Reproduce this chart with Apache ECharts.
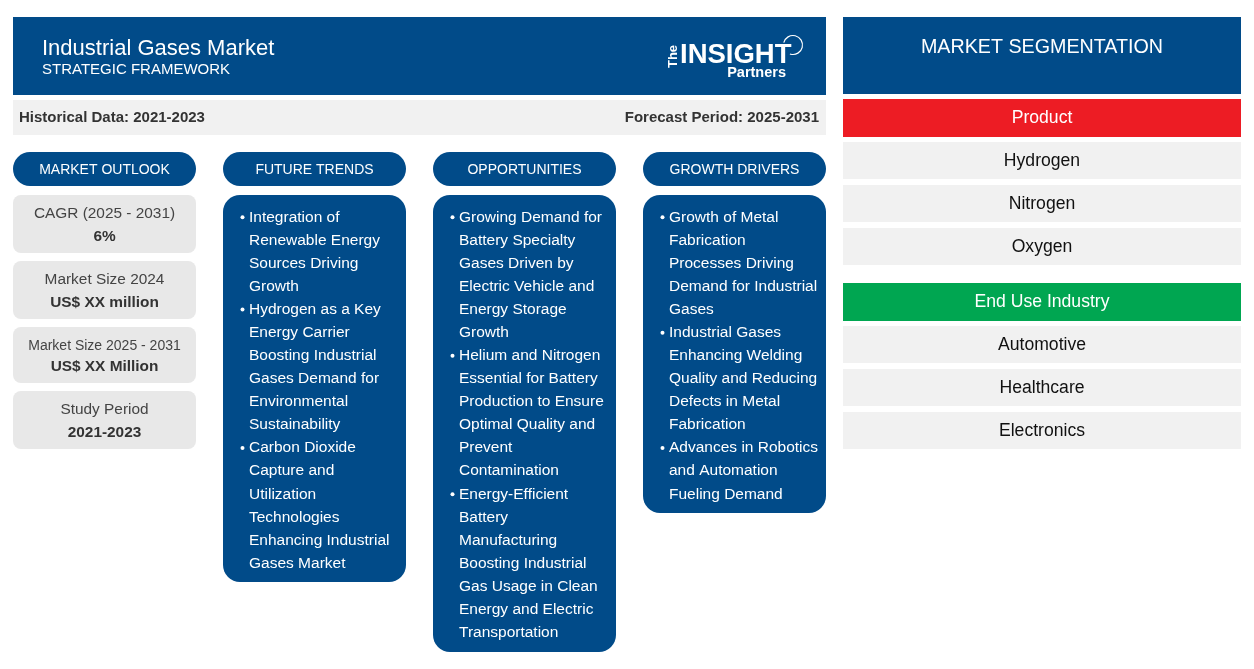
<!DOCTYPE html>
<html>
<head>
<meta charset="utf-8">
<title>Industrial Gases Market</title>
<script src="https://cdn.jsdelivr.net/npm/echarts@6/dist/echarts.min.js"></script>
<style>
  html, body { margin: 0; padding: 0; background: #fff; }
  #chart { width: 1254px; height: 669px; }
</style>
</head>
<body>
<div id="chart"></div>
<script>
const titleText = 'Industrial Gases Market';
const subtitleText = 'STRATEGIC FRAMEWORK';
const historicalText = 'Historical Data: 2021-2023';
const forecastText = 'Forecast Period: 2025-2031';
const segmentationTitle = 'MARKET SEGMENTATION';

const columnTitles = ['MARKET OUTLOOK', 'FUTURE TRENDS', 'OPPORTUNITIES', 'GROWTH DRIVERS'];

const outlookLabels = ['CAGR (2025 - 2031)', 'Market Size 2024', 'Market Size 2025 - 2031', 'Study Period'];
const outlookValues = ['6%', 'US$ XX million', 'US$ XX Million', '2021-2023'];

const futureTrends = [
  ['Integration of', 'Renewable Energy', 'Sources Driving', 'Growth'],
  ['Hydrogen as a Key', 'Energy Carrier', 'Boosting Industrial', 'Gases Demand for', 'Environmental', 'Sustainability'],
  ['Carbon Dioxide', 'Capture and', 'Utilization', 'Technologies', 'Enhancing Industrial', 'Gases Market']
];
const opportunities = [
  ['Growing Demand for', 'Battery Specialty', 'Gases Driven by', 'Electric Vehicle and', 'Energy Storage', 'Growth'],
  ['Helium and Nitrogen', 'Essential for Battery', 'Production to Ensure', 'Optimal Quality and', 'Prevent', 'Contamination'],
  ['Energy-Efficient', 'Battery', 'Manufacturing', 'Boosting Industrial', 'Gas Usage in Clean', 'Energy and Electric', 'Transportation']
];
const growthDrivers = [
  ['Growth of Metal', 'Fabrication', 'Processes Driving', 'Demand for Industrial', 'Gases'],
  ['Industrial Gases', 'Enhancing Welding', 'Quality and Reducing', 'Defects in Metal', 'Fabrication'],
  ['Advances in Robotics', 'and Automation', 'Fueling Demand']
];

const productItems = ['Hydrogen', 'Nitrogen', 'Oxygen'];
const endUseItems = ['Automotive', 'Healthcare', 'Electronics'];

const BLUE = '#014b89';
const RED = '#ed1c24';
const GREEN = '#00a651';
const FONT = '"Liberation Sans", Arial, sans-serif';

const rect = (x, y, width, height, fill, r) => ({
  type: 'rect',
  shape: { x, y, width, height, r: r || 0 },
  style: { fill }
});

const label = (text, x, y, size, fill, opts) => ({
  type: 'text',
  x, y,
  style: Object.assign({
    text, fill,
    font: `${(opts && opts.weight) || 'normal'} ${size}px ${FONT}`,
    textAlign: 'center',
    textVerticalAlign: 'middle'
  }, opts && opts.style)
});

const elements = [];

// header + date band
elements.push(rect(13, 17, 813, 78, BLUE));
elements.push(label(titleText, 42, 48.5, 22, '#fff', { style: { textAlign: 'left' } }));
elements.push(label(subtitleText, 42, 69.5, 15, '#fff', { style: { textAlign: 'left' } }));
elements.push(rect(13, 100, 813, 35, '#f1f1f1'));
elements.push(label(historicalText, 19, 118, 15, '#333', { weight: 'bold', style: { textAlign: 'left' } }));
elements.push(label(forecastText, 819, 118, 15, '#333', { weight: 'bold', style: { textAlign: 'right' } }));

// logo, drawn as text and a ring
elements.push(label('INSIGHT', 680, 55.5, 27.5, '#fff', { weight: 'bold', style: { textAlign: 'left' } }));
elements.push(label('Partners', 786, 73, 14.5, '#fff', { weight: 'bold', style: { textAlign: 'right' } }));
elements.push(Object.assign(label('The', 673, 56.5, 13, '#fff', { weight: 'bold' }), { rotation: Math.PI / 2 }));
elements.push({
  type: 'arc',
  shape: { cx: 793, cy: 45, r: 9.5, startAngle: -2.9, endAngle: 1.9 },
  style: { stroke: '#fff', fill: null, lineWidth: 1.2 }
});

// column headers
const columnX = [13, 223, 433, 643];
const columnW = 183;
columnTitles.forEach((t, i) => {
  elements.push(rect(columnX[i], 152, columnW, 34, BLUE, 17));
  elements.push(label(t, columnX[i] + columnW / 2, 170.5, 14, '#fff'));
});

// market outlook cards
const cardY = [195, 261, 327, 391];
const cardH = [58, 58, 56, 58];
const cardLabelSize = [15.4, 15.4, 14, 15.4];
outlookLabels.forEach((t, i) => {
  const cx = columnX[0] + columnW / 2;
  elements.push(rect(columnX[0], cardY[i], columnW, cardH[i], '#e8e8e8', 8));
  elements.push(label(t, cx, cardY[i] + 19, cardLabelSize[i], '#444'));
  elements.push(label(outlookValues[i], cx, cardY[i] + cardH[i] - 16.5, 15.4, '#333', { weight: 'bold' }));
});

// bullet columns
const LINE_H = 23.08;
const drawBullets = (groups, colIdx, boxBottom) => {
  const x = columnX[colIdx];
  elements.push(rect(x, 195, columnW, boxBottom - 195, BLUE, 17));
  let n = 0;
  groups.forEach((lines) => {
    lines.forEach((line, j) => {
      const y = 217.3 + LINE_H * n;
      if (j === 0) elements.push({ type: 'circle', shape: { cx: x + 19.5, cy: y, r: 2 }, style: { fill: '#fff' } });
      elements.push(label(line, x + 26, y, 15.5, '#fff', { style: { textAlign: 'left' } }));
      n++;
    });
  });
};
drawBullets(futureTrends, 1, 582);
drawBullets(opportunities, 2, 652);
drawBullets(growthDrivers, 3, 513);

// segmentation panel
const panelX = 843;
const panelW = 398;
const panelC = panelX + panelW / 2;
elements.push(rect(panelX, 17, panelW, 77, BLUE));
elements.push(label(segmentationTitle, panelC, 47.5, 19.7, '#fff'));

const drawSegment = (title, color, items, top) => {
  elements.push(rect(panelX, top, panelW, 38, color));
  elements.push(label(title, panelC, top + 19.5, 17.6, '#fff'));
  items.forEach((t, i) => {
    const y = top + 43 + 43 * i;
    elements.push(rect(panelX, y, panelW, 37, '#f1f1f1'));
    elements.push(label(t, panelC, y + 19.5, 17.6, '#111'));
  });
};
drawSegment('Product', RED, productItems, 99);
drawSegment('End Use Industry', GREEN, endUseItems, 283);

const chart = echarts.init(document.getElementById('chart'), null, { renderer: 'canvas' });
chart.setOption({
  backgroundColor: '#fff',
  animation: false,
  graphic: { elements }
});
window.addEventListener('resize', () => chart.resize());
</script>
</body>
</html>
